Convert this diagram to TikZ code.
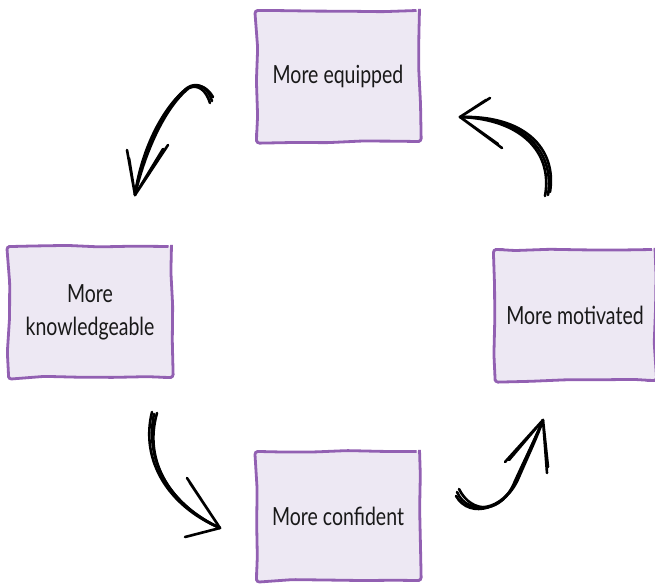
\documentclass[tikz,border=0pt]{standalone}
\usepackage{fontspec}
\setmainfont{Lato}[FakeStretch=0.78]
\usepackage{xcolor}
\usepackage{tikz}
\usetikzlibrary{decorations.pathmorphing}

\definecolor{boxline}{RGB}{146,96,178}
\definecolor{boxfill}{RGB}{237,232,243}

\tikzset{
  box/.style={draw=boxline, fill=boxfill, line width=2.8pt, rounded corners=3pt,
    minimum width=163pt, minimum height=131pt, align=center,
    font=\fontsize{25}{33}\selectfont, text=black!90,
    decorate, decoration={random steps, segment length=34pt, amplitude=1.2pt}},
  sketch/.style={line width=2.6pt, line cap=round, line join=round, black}
}

\begin{document}
\begin{tikzpicture}[x=1pt,y=-1pt]
\useasboundingbox (0,0) rectangle (655,583);

% the four boxes
\node[box] (equip) at (338,76) {More equipped};
\node[box] (know) at (90,312) {More\\knowledgeable};
\node[box, minimum width=160pt] (motiv) at (575,315) {More motivated};
\node[box, minimum height=129pt] (conf) at (338,516) {More confident};

% arrow ends
\coordinate (a1s) at (212,101);
\coordinate (a1e) at (135,195);
\coordinate (a2s) at (152,412);
\coordinate (a2e) at (220,528);
\coordinate (a3s) at (457,492);
\coordinate (a3e) at (543,420);
\coordinate (a4s) at (548,195);
\coordinate (a4e) at (460,117);

% equipped -> knowledgeable
\draw[sketch] (a1s) .. controls (208,87) and (197,81) .. (187,88) .. controls (163,108) and (143,150) .. (a1e);
\draw[sketch] (210,103) .. controls (206,90) and (198,84) .. (189,88) .. controls (165,107) and (145,152) .. (a1e);
\draw[sketch] (213,97) .. controls (206,85) and (195,82) .. (185,90) .. controls (161,110) and (141,152) .. (a1e);
\draw[sketch] (a1e) -- (127,150) (a1e) -- (129,158);
\draw[sketch] (a1e) -- (168,145) (a1e) -- (163,149);

% knowledgeable -> confident
\draw[sketch] (a2s) .. controls (140,460) and (168,506) .. (a2e);
\draw[sketch] (157,413) .. controls (143,462) and (171,505) .. (a2e);
\draw[sketch] (154,414) .. controls (144,464) and (173,507) .. (a2e);
\draw[sketch] (a2e) -- (187,478) (a2e) -- (190,483);
\draw[sketch] (a2e) -- (185,537) (a2e) -- (189,536);

% confident -> motivated
\draw[sketch] (a3s) .. controls (468,517) and (504,511) .. (517,479) .. controls (527,455) and (537,435) .. (a3e);
\draw[sketch] (459,489) .. controls (472,515) and (502,514) .. (515,481) .. controls (526,457) and (536,437) .. (a3e);
\draw[sketch] (456,496) .. controls (470,520) and (506,509) .. (519,477) .. controls (529,454) and (538,435) .. (a3e);
\draw[sketch] (a3e) -- (505,462) (a3e) -- (509,460);
\draw[sketch] (a3e) -- (547,473) (a3e) -- (548,467);

% motivated -> equipped
\draw[sketch] (a4s) .. controls (555,150) and (522,117) .. (a4e);
\draw[sketch] (545,196) .. controls (553,152) and (521,119) .. (a4e);
\draw[sketch] (550,192) .. controls (557,148) and (524,115) .. (a4e);
\draw[sketch] (a4e) -- (490,98) (a4e) -- (486,100);
\draw[sketch] (a4e) -- (502,148) (a4e) -- (498,144);
\end{tikzpicture}
\end{document}
